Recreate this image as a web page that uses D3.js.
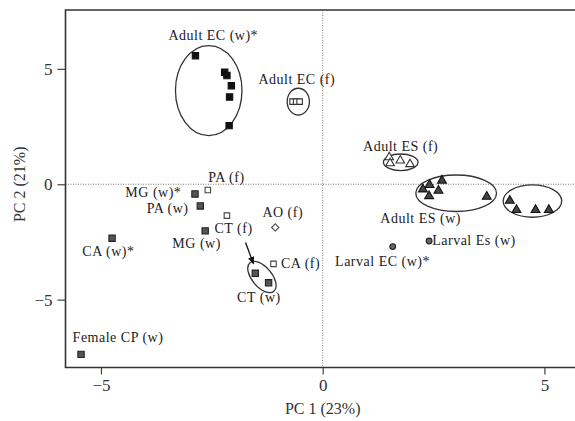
<!DOCTYPE html>
<html>
<head>
<meta charset="utf-8">
<script src="https://cdn.jsdelivr.net/npm/d3@7/dist/d3.min.js"></script>
<style>
  body { margin: 0; background: #fff; }
  svg { display: block; }
  .lbl { font-family: "Liberation Serif", "Times New Roman", serif; font-size: 14px; letter-spacing: 0.5px; fill: #222; }
  .tick text { font-family: "Liberation Serif", serif; font-size: 17px; fill: #333; }
  .axis-title { font-family: "Liberation Serif", serif; font-size: 16px; fill: #333; }
</style>
</head>
<body>
<div id="chart"></div>
<script>
// PCA scores
const adultECw = [[-2.87, 5.57], [-2.21, 4.85], [-2.16, 4.71], [-2.06, 4.27], [-2.10, 3.78], [-2.11, 2.54]];
const adultECf = [[-0.68, 3.58], [-0.60, 3.58], [-0.52, 3.58]];
const adultESf = [[1.50, 1.17], [1.52, 0.91], [1.75, 1.03], [1.97, 0.87]];
const adultESw = [[2.69, 0.16], [2.41, -0.03], [2.26, -0.22], [2.61, -0.28], [2.40, -0.51], [3.70, -0.54],
                  [4.22, -0.71], [4.37, -1.11], [4.80, -1.11], [5.10, -1.11]];
const wholeGrey = [[-2.88, -0.42], [-2.76, -0.94], [-2.65, -2.02], [-4.75, -2.34], [-1.52, -3.86], [-1.22, -4.27], [-5.45, -7.37]];
const openSquares = [[-2.59, -0.25], [-2.16, -1.36], [-1.11, -3.45]];
const openDiamond = [[-1.07, -1.87]];
const larval = [[2.40, -2.46], [1.58, -2.70]];

// group ellipses: cx, cy, rx, ry (data units), rotation (deg)
const ellipses = [
  [-2.57, 4.06, 0.75, 1.95, 0],
  [-0.55, 3.58, 0.25, 0.58, 0],
  [1.76, 0.95, 0.39, 0.36, 0],
  [3.01, -0.39, 0.91, 0.79, 0],
  [4.73, -0.73, 0.66, 0.70, 0],
  [-1.37, -4.02, 0.42, 0.43, 50]
];

// annotation text: label, x, y (baseline, data units)
const labels = [
  ['Adult EC (w)*', -3.48, 6.25],
  ['Adult EC (f)', -1.45, 4.34],
  ['Adult ES (f)', 0.91, 1.44],
  ['Adult ES (w)', 1.30, -1.68],
  ['Larval Es (w)', 2.47, -2.63],
  ['Larval EC (w)*', 0.28, -3.54],
  ['PA (f)', -2.58, 0.10],
  ['MG (w)*', -4.45, -0.55],
  ['PA (w)', -3.97, -1.24],
  ['AO (f)', -1.36, -1.42],
  ['CT (f)', -2.44, -2.11],
  ['MG (w)', -3.39, -2.76],
  ['CA (w)*', -5.42, -3.11],
  ['CA (f)', -0.94, -3.63],
  ['CT (w)', -1.93, -5.10],
  ['Female CP (w)', -5.64, -6.84]
];
const arrow = [[-1.74, -2.52], [-1.56, -3.45]];
const ticks = [-5, 0, 5];

const width = 575, height = 421;
const margin = {left: 65.5, right: 0, top: 10, bottom: 53.5};

const svg = d3.select('#chart').append('svg').attr('width', width).attr('height', height);

const x = d3.scaleLinear().domain([-5.8, 5.69]).range([margin.left, width - margin.right]);
const y = d3.scaleLinear().domain([-7.94, 7.55]).range([height - margin.bottom, margin.top]);

svg.append('defs').append('marker')
  .attr('id', 'head').attr('viewBox', '0 0 10 10').attr('refX', 9).attr('refY', 5)
  .attr('markerWidth', 6).attr('markerHeight', 6).attr('orient', 'auto')
  .append('path').attr('d', 'M0,1 L10,5 L0,9 Z').attr('fill', '#111');

// zero reference lines
svg.append('line').attr('x1', x(0)).attr('x2', x(0)).attr('y1', y.range()[1]).attr('y2', y.range()[0])
  .attr('stroke', '#777').attr('stroke-dasharray', '1,1.5');
svg.append('line').attr('x1', x.range()[0]).attr('x2', x.range()[1]).attr('y1', y(0)).attr('y2', y(0))
  .attr('stroke', '#777').attr('stroke-dasharray', '1,1.5');

// axes
const xAxis = svg.append('g').attr('transform', 'translate(0,' + y.range()[0] + ')')
  .call(d3.axisBottom(x).tickValues(ticks).tickSize(7).tickPadding(3).tickFormat(d3.format('d')));
const yAxis = svg.append('g').attr('transform', 'translate(' + x.range()[0] + ',0)')
  .call(d3.axisLeft(y).tickValues(ticks).tickSize(8).tickPadding(5).tickFormat(d3.format('d')));
svg.selectAll('.domain').remove();
svg.selectAll('.tick line').attr('stroke', '#444').attr('stroke-width', 1.2);
xAxis.selectAll('.tick text').attr('dy', '0.8em');

// frame: left, top, bottom (open on the right)
const frame = d3.path();
frame.moveTo(x.range()[1], y.range()[1]);
frame.lineTo(x.range()[0], y.range()[1]);
frame.lineTo(x.range()[0], y.range()[0]);
frame.lineTo(x.range()[1], y.range()[0]);
svg.append('path').attr('d', frame.toString()).attr('fill', 'none').attr('stroke', '#333').attr('stroke-width', 1.6);

svg.append('text').attr('class', 'axis-title').attr('x', x(0)).attr('y', 414).attr('text-anchor', 'middle').text('PC 1 (23%)');
svg.append('text').attr('class', 'axis-title').attr('transform', 'translate(25,' + y(0) + ') rotate(-90)')
  .attr('text-anchor', 'middle').text('PC 2 (21%)');

// ellipses
const kx = x(1) - x(0), ky = y(0) - y(1);
svg.append('g').selectAll('ellipse').data(ellipses).enter().append('ellipse')
  .attr('transform', d => 'translate(' + x(d[0]) + ',' + y(d[1]) + ') rotate(' + d[4] + ')')
  .attr('rx', d => d[2] * kx).attr('ry', d => d[3] * ky)
  .attr('fill', 'none').attr('stroke', '#333').attr('stroke-width', 1.3);

// points
const series = [
  {data: adultECw, sym: d3.symbolSquare, size: 40, rot: 0, fill: '#111', stroke: '#111'},
  {data: wholeGrey, sym: d3.symbolSquare, size: 40, rot: 0, fill: '#555', stroke: '#222'},
  {data: adultECf, sym: d3.symbolSquare, size: 30, rot: 0, fill: '#fff', stroke: '#333'},
  {data: openSquares, sym: d3.symbolSquare, size: 30, rot: 0, fill: '#fff', stroke: '#444'},
  {data: openDiamond, sym: d3.symbolSquare, size: 26, rot: 45, fill: '#fff', stroke: '#444'},
  {data: adultESf, sym: d3.symbolTriangle, size: 32, rot: 0, fill: '#fff', stroke: '#333'},
  {data: adultESw, sym: d3.symbolTriangle, size: 34, rot: 0, fill: '#444', stroke: '#111'},
  {data: larval, sym: d3.symbolCircle, size: 26, rot: 0, fill: '#666', stroke: '#222'}
];
series.forEach(s => {
  svg.append('g').selectAll('path').data(s.data).enter().append('path')
    .attr('transform', d => 'translate(' + x(d[0]) + ',' + y(d[1]) + ') rotate(' + s.rot + ')')
    .attr('d', d3.symbol().type(s.sym).size(s.size))
    .attr('fill', s.fill).attr('stroke', s.stroke).attr('stroke-width', 1.1);
});

// arrow CT (f) -> CT (w)
svg.append('line').attr('x1', x(arrow[0][0])).attr('y1', y(arrow[0][1]))
  .attr('x2', x(arrow[1][0])).attr('y2', y(arrow[1][1]))
  .attr('stroke', '#111').attr('stroke-width', 1.3).attr('marker-end', 'url(#head)');

svg.append('g').selectAll('text').data(labels).enter().append('text').attr('class', 'lbl')
  .attr('x', d => x(d[1])).attr('y', d => y(d[2])).text(d => d[0]);
</script>
</body>
</html>
